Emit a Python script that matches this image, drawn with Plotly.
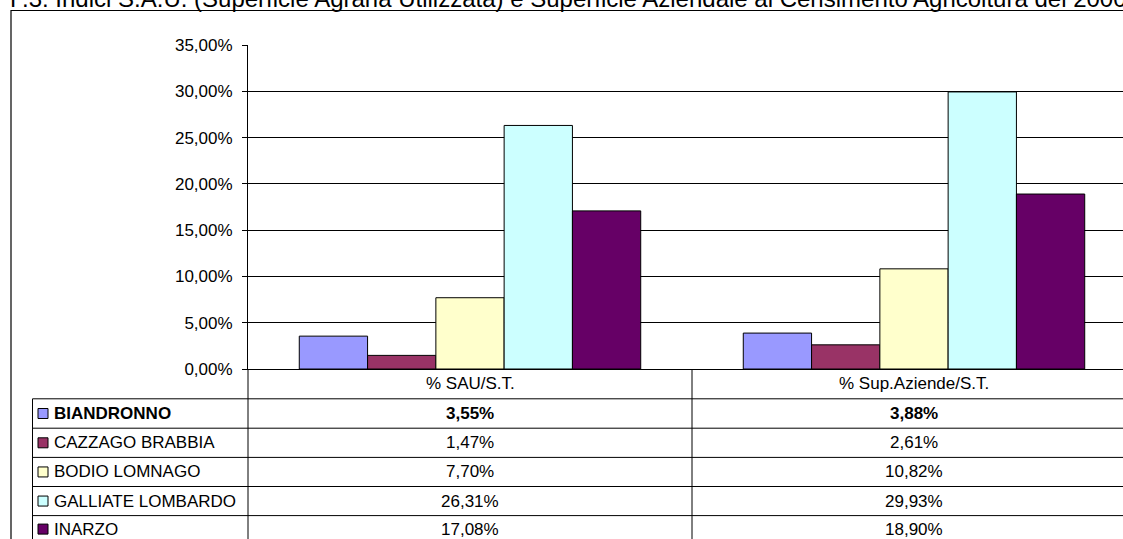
import plotly.graph_objects as go

title_text = "F.3: Indici S.A.U. (Superficie Agraria Utilizzata) e Superficie Aziendale al Censimento Agricoltura del 2000"
categories = ["% SAU/S.T.", "% Sup.Aziende/S.T."]
series_names = ["BIANDRONNO", "CAZZAGO BRABBIA", "BODIO LOMNAGO", "GALLIATE LOMBARDO", "INARZO"]
biandronno = [3.55, 3.88]
cazzago_brabbia = [1.47, 2.61]
bodio_lomnago = [7.70, 10.82]
galliate_lombardo = [26.31, 29.93]
inarzo = [17.08, 18.90]
series_values = [biandronno, cazzago_brabbia, bodio_lomnago, galliate_lombardo, inarzo]
colors = ["#9999FF", "#993366", "#FFFFCC", "#CCFFFF", "#660066"]
y_ticks = [0, 5, 10, 15, 20, 25, 30, 35]

W, H = 1123, 539
L, T, B = 248, 45, 369          # plot area pixel edges
PW, PH = W - L, B - T
FONT = "Liberation Sans, Arial, sans-serif"
FS = 17

def px_x(p):
    return (p - L) / PW

def px_y(p):
    return (B - p) / PH

def fmt(v):
    return f"{v:.2f}".replace(".", ",") + "%"

fig = go.Figure()
for name, vals, col in zip(series_names, series_values, colors):
    fig.add_trace(go.Bar(x=categories, y=vals, name=name,
                         marker=dict(color=col, line=dict(color="#000000", width=1))))

shapes = []
annotations = []

# outer chart border
shapes.append(dict(type="rect", xref="paper", yref="paper",
                   x0=px_x(11), x1=1.2, y0=px_y(700), y1=px_y(10.5),
                   line=dict(color="#000000", width=1.2), fillcolor="rgba(0,0,0,0)"))
# title (top partly cut like the reference)
annotations.append(dict(text=title_text, xref="paper", yref="paper",
                        x=px_x(8), y=px_y(14), xanchor="left", yanchor="bottom",
                        showarrow=False, font=dict(family=FONT, size=24.0, color="#000000")))

# data table
row_lines = [369, 398.8, 428.2, 457.4, 486.5, 515.6, 545]
shapes.append(dict(type="line", xref="paper", yref="paper",
                   x0=0, x1=0, y0=px_y(369), y1=px_y(560),
                   line=dict(color="#000000", width=1)))
shapes.append(dict(type="line", xref="paper", yref="paper",
                   x0=px_x(32.5), x1=px_x(32.5), y0=px_y(row_lines[1]), y1=px_y(560),
                   line=dict(color="#000000", width=1)))
shapes.append(dict(type="line", xref="x", yref="paper",
                   x0=0.5, x1=0.5, y0=px_y(369), y1=px_y(560),
                   line=dict(color="#000000", width=1)))
for yl in row_lines[1:6]:
    shapes.append(dict(type="line", xref="paper", yref="paper",
                       x0=px_x(32.5), x1=1.1, y0=px_y(yl), y1=px_y(yl),
                       line=dict(color="#000000", width=1)))

hy = (row_lines[0] + row_lines[1]) / 2
for c in categories:
    annotations.append(dict(text=c, xref="x", yref="paper", x=c, y=px_y(hy),
                            xanchor="center", yanchor="middle", showarrow=False,
                            font=dict(family=FONT, size=FS, color="#000000")))
for i, (name, vals, col) in enumerate(zip(series_names, series_values, colors)):
    cy = (row_lines[i + 1] + row_lines[i + 2]) / 2
    if i == 4:
        cy = row_lines[5] + 13.5
    bold = (i == 0)
    shapes.append(dict(type="rect", xref="paper", yref="paper",
                       x0=px_x(38), x1=px_x(48), y0=px_y(cy - 5), y1=px_y(cy + 5),
                       fillcolor=col, line=dict(color="#000000", width=1)))
    annotations.append(dict(text=f"<b>{name}</b>" if bold else name,
                            xref="paper", yref="paper", x=px_x(52), y=px_y(cy),
                            xanchor="left", yanchor="middle", showarrow=False,
                            font=dict(family=FONT, size=FS, color="#000000")))
    for c, v in zip(categories, vals):
        annotations.append(dict(text=f"<b>{fmt(v)}</b>" if bold else fmt(v),
                                xref="x", yref="paper", x=c, y=px_y(cy),
                                xanchor="center", yanchor="middle", showarrow=False,
                                font=dict(family=FONT, size=FS, color="#000000")))

fig.update_layout(
    width=W, height=H, autosize=False,
    margin=dict(l=L, r=0, t=T, b=H - B, pad=0),
    paper_bgcolor="#FFFFFF", plot_bgcolor="#FFFFFF",
    barmode="group", bargap=0.231, bargroupgap=0,
    showlegend=False, separators=",.",
    font=dict(family=FONT, size=FS, color="#000000"),
    shapes=shapes, annotations=annotations,
    xaxis=dict(type="category", range=[-0.5, 1.5 - 13 / 444], showticklabels=False,
               showline=True, linecolor="#000000", linewidth=1.2,
               showgrid=False, ticks="", zeroline=False, fixedrange=True),
    yaxis=dict(range=[0, 35], tickmode="array", tickvals=y_ticks,
               ticktext=[fmt(v) for v in y_ticks],
               showline=True, linecolor="#000000", linewidth=1,
               showgrid=True, gridcolor="#000000", gridwidth=1,
               ticks="outside", ticklen=5, tickcolor="#000000",
               ticklabelstandoff=6,
               tickfont=dict(family=FONT, size=FS, color="#000000"),
               zeroline=False, fixedrange=True),
)

fig.write_html("out.html", config={"displayModeBar": False},
               post_script="document.body.style.margin='0px';document.body.style.overflow='hidden';")
